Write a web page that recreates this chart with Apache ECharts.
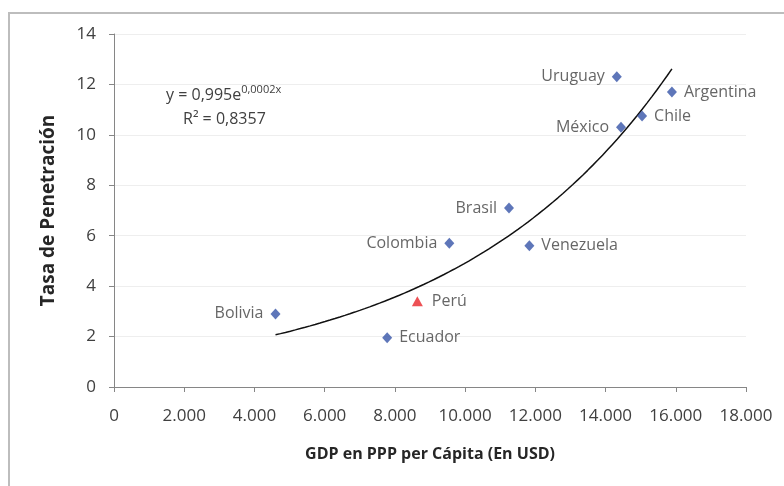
<!DOCTYPE html>
<html>
<head>
<meta charset="utf-8">
<script src="https://cdn.jsdelivr.net/npm/echarts@6/dist/echarts.min.js"></script>
<style>
  html, body { margin: 0; padding: 0; background: #fff; }
  #chart { width: 784px; height: 486px; }
</style>
</head>
<body>
<div id="chart"></div>
<script>
// GDP per capita (PPP, USD) vs. penetration rate
const countries = ['Bolivia', 'Ecuador', 'Colombia', 'Venezuela', 'Brasil', 'Uruguay', 'Argentina', 'Chile', 'México'];
const gdp       = [4600, 7780, 9550, 11830, 11250, 14320, 15890, 15040, 14440];
const rate      = [2.9, 1.95, 5.7, 5.6, 7.1, 12.3, 11.7, 10.75, 10.3];
const labelSide = ['left', 'right', 'left', 'right', 'left', 'left', 'right', 'right', 'left'];

const highlightName = 'Perú';
const highlightGdp = 8640;
const highlightRate = 3.4;

const xTicks = { min: 0, max: 18000, step: 2000 };
const yTicks = { min: 0, max: 14, step: 2 };

// Exponential trend: least squares fit of ln(y) on x, over all countries
function expFit(xs, ys) {
  const n = xs.length;
  const ly = ys.map(v => Math.log(v));
  const mx = xs.reduce((s, v) => s + v, 0) / n;
  const my = ly.reduce((s, v) => s + v, 0) / n;
  let sxy = 0, sxx = 0;
  for (let i = 0; i < n; i++) {
    sxy += (xs[i] - mx) * (ly[i] - my);
    sxx += (xs[i] - mx) * (xs[i] - mx);
  }
  const b = sxy / sxx;
  const a = Math.exp(my - b * mx);
  return { a, b };
}
const allX = gdp.concat([highlightGdp]);
const allY = rate.concat([highlightRate]);
const fit = expFit(allX, allY);
const xLo = Math.min(...allX), xHi = Math.max(...allX);
const trend = [];
for (let i = 0; i <= 80; i++) {
  const x = xLo + (xHi - xLo) * i / 80;
  trend.push([x, fit.a * Math.exp(fit.b * x)]);
}

const FONT = '"Open Sans", "DejaVu Sans", sans-serif';
const textColor = '#404040';

const chart = echarts.init(document.getElementById('chart'), null, { renderer: 'canvas' });
chart.setOption({
  animation: false,
  backgroundColor: '#ffffff',
  grid: { left: 114, right: 38, top: 34, bottom: 99, containLabel: false },
  xAxis: {
    type: 'value', min: xTicks.min, max: xTicks.max, interval: xTicks.step,
    name: 'GDP en PPP per Cápita (En USD)', nameLocation: 'middle', nameGap: 59,
    nameTextStyle: { fontFamily: FONT, fontSize: 16, fontWeight: 'bold', color: '#262626' },
    axisLine: { lineStyle: { color: '#868686', width: 1 } },
    axisTick: { show: true, length: 5, lineStyle: { color: '#868686' } },
    axisLabel: {
      fontFamily: FONT, fontSize: 17, color: '#404040', margin: 21,
      formatter: v => v === 0 ? '0' : v.toLocaleString('de-DE')
    },
    splitLine: { show: false }
  },
  yAxis: {
    type: 'value', min: yTicks.min, max: yTicks.max, interval: yTicks.step,
    name: 'Tasa de Penetración', nameLocation: 'middle', nameGap: 56, nameRotate: 90,
    nameTextStyle: { fontFamily: FONT, fontSize: 19, fontWeight: 'bold', color: '#262626' },
    axisLine: { show: true, lineStyle: { color: '#868686', width: 1 } },
    axisTick: { show: true, length: 5, lineStyle: { color: '#868686' } },
    axisLabel: { fontFamily: FONT, fontSize: 17, color: '#404040', margin: 18 },
    splitLine: { show: true, lineStyle: { color: '#eeeeee', width: 1 } }
  },
  title: [
    {
      left: 166, top: 84, padding: 0,
      text: 'y = 0,995e{s|0,0002x}',
      textStyle: {
        fontFamily: FONT, fontSize: 16, fontWeight: 'normal', color: textColor, lineHeight: 22,
        rich: {
          s: { fontFamily: FONT, fontSize: 11, color: textColor, verticalAlign: 'top', lineHeight: 22, padding: [0, 0, 9, 0] }
        }
      }
    },
    {
      left: 183, top: 108, padding: 0,
      text: 'R² = 0,8357',
      textStyle: { fontFamily: FONT, fontSize: 16, fontWeight: 'normal', color: textColor, lineHeight: 22 }
    }
  ],
  graphic: [
    { type: 'polyline', shape: { points: [[9, 486], [9, 13], [784, 13]] },
      style: { stroke: '#bdbdbd', lineWidth: 2, fill: null }, silent: true }
  ],
  series: [
    {
      name: 'trend', type: 'line', data: trend, showSymbol: false, smooth: false,
      lineStyle: { color: '#111111', width: 1.5 }, silent: true, z: 1
    },
    {
      name: 'países', type: 'scatter', symbol: 'diamond', symbolSize: [10, 11],
      itemStyle: { color: '#3654a8' }, z: 3,
      data: countries.map((c, i) => ({
        name: c, value: [gdp[i], rate[i]],
        label: {
          show: true, position: labelSide[i], distance: 7, formatter: '{b}',
          fontFamily: FONT, fontSize: 16, color: textColor
        }
      }))
    },
    {
      name: highlightName, type: 'scatter', symbol: 'triangle', symbolSize: [11, 10],
      itemStyle: { color: '#e8262a' }, z: 3,
      data: [{
        name: highlightName, value: [highlightGdp, highlightRate],
        label: {
          show: true, position: 'right', distance: 9, formatter: '{b}',
          fontFamily: FONT, fontSize: 16, color: textColor
        }
      }]
    }
  ]
});
</script>
</body>
</html>
